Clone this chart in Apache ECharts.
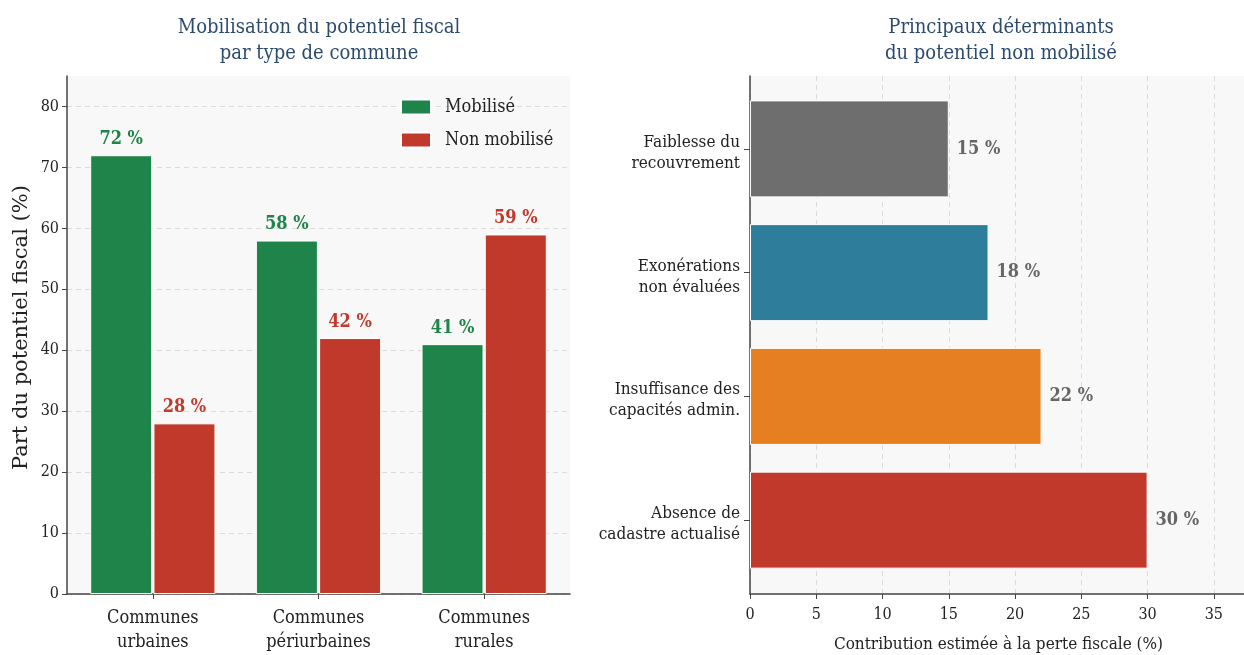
<!DOCTYPE html>
<html>
<head>
<meta charset="utf-8">
<script src="https://cdn.jsdelivr.net/npm/echarts@6/dist/echarts.min.js"></script>
<style>
  html, body { margin: 0; padding: 0; background: #ffffff; }
  #chart { width: 1244px; height: 655px; }
</style>
</head>
<body>
<div id="chart"></div>
<script>
// Left panel: share of fiscal potential by commune type
const communeTypes = ['Communes\nurbaines', 'Communes\npériurbaines', 'Communes\nrurales'];
const mobilise = [72, 58, 41];
const nonMobilise = [28, 42, 59];
const leftTicks = [0, 10, 20, 30, 40, 50, 60, 70, 80];

// Right panel: main drivers of the unmobilised potential
const determinants = ['Faiblesse du\nrecouvrement', 'Exonérations\nnon évaluées', 'Insuffisance des\ncapacités admin.', 'Absence de\ncadastre actualisé'];
const contributions = [15, 18, 22, 30];
const determinantColors = ['#6e6e6e', '#2e7d9a', '#e67e22', '#c0392b'];
const rightTicks = [0, 5, 10, 15, 20, 25, 30, 35];

const GREEN = '#1e8449';
const RED = '#c0392b';
const SERIF_C = '"DejaVu Serif Condensed", "DejaVu Serif", serif';
const SERIF = '"DejaVu Serif", serif';
const AXIS_COLOR = '#444';
const TEXT = '#222';
const GRID_DASH = { color: '#dcdcdc', type: [5, 4], width: 1 };

const chart = echarts.init(document.getElementById('chart'), null, { renderer: 'canvas' });

const valueLabel = (color) => ({
  show: true, formatter: p => p.value + ' %',
  fontFamily: SERIF_C, fontSize: 18, fontWeight: 'bold', color: color
});

chart.setOption({
  backgroundColor: '#ffffff',
  animation: false,
  title: [
    {
      text: 'Mobilisation du potentiel fiscal\npar type de commune',
      left: 314, top: 10, textAlign: 'center',
      textStyle: { fontFamily: SERIF_C, fontSize: 20, fontWeight: 'normal', color: '#2c4a6e', lineHeight: 26 }
    },
    {
      text: 'Principaux déterminants\ndu potentiel non mobilisé',
      left: 996, top: 10, textAlign: 'center',
      textStyle: { fontFamily: SERIF_C, fontSize: 20, fontWeight: 'normal', color: '#2c4a6e', lineHeight: 26 }
    }
  ],
  legend: {
    orient: 'vertical',
    left: 400, top: 98, padding: 0,
    icon: 'rect',
    itemWidth: 30, itemHeight: 15, itemGap: 15,
    textStyle: { fontFamily: SERIF_C, fontSize: 18, color: TEXT, padding: [0, 0, 0, 9] },
    data: ['Mobilisé', 'Non mobilisé']
  },
  grid: [
    // 0: left frame (value axis, axis lines, background)
    { left: 67, width: 503, top: 76, bottom: 61, show: true, backgroundColor: '#f8f8f8', borderWidth: 0, outerBoundsMode: 'none' },
    // 1: left bars
    { left: 70, width: 497, top: 76, bottom: 61, outerBoundsMode: 'none' },
    // 2: right frame (value axis + axis line)
    { left: 750, width: 497, top: 76, bottom: 61, show: true, backgroundColor: '#f8f8f8', borderWidth: 0, outerBoundsMode: 'none' },
    // 3: right bars
    { left: 750, width: 497, top: 87, height: 495, outerBoundsMode: 'none' },
    // 4: right category labels (set slightly lower, like two-line tick labels)
    { left: 750, width: 497, top: 91, height: 495, outerBoundsMode: 'none' }
  ],
  xAxis: [
    {
      gridIndex: 0, type: 'value', min: 0, max: 1,
      axisLine: { show: true, lineStyle: { color: AXIS_COLOR, width: 1.5 } },
      axisTick: { show: false }, axisLabel: { show: false }, splitLine: { show: false }
    },
    {
      gridIndex: 1, type: 'category', data: communeTypes,
      axisLine: { show: false },
      axisTick: { show: true, alignWithLabel: true, length: 5, lineStyle: { color: AXIS_COLOR } },
      axisLabel: { fontFamily: SERIF_C, fontSize: 18, color: TEXT, lineHeight: 24, margin: 12 }
    },
    {
      gridIndex: 2, type: 'value', min: 0, max: 37.5, interval: 5,
      name: 'Contribution estimée à la perte fiscale (%)',
      nameLocation: 'middle', nameGap: 42,
      nameTextStyle: { fontFamily: SERIF_C, fontSize: 17, color: TEXT },
      axisLine: { show: true, lineStyle: { color: AXIS_COLOR, width: 1.5 } },
      axisTick: { show: true, length: 5, customValues: rightTicks, lineStyle: { color: AXIS_COLOR } },
      axisLabel: {
        fontFamily: SERIF_C, fontSize: 16, color: TEXT, margin: 13,
        formatter: v => (rightTicks.indexOf(v) >= 0 ? String(v) : '')
      },
      splitLine: { show: true, lineStyle: GRID_DASH }
    },
    {
      gridIndex: 3, type: 'value', min: 0, max: 37.5, show: false
    },
    {
      gridIndex: 4, type: 'value', min: 0, max: 37.5, show: false
    }
  ],
  yAxis: [
    {
      gridIndex: 0, type: 'value', min: 0, max: 85, interval: 10,
      name: 'Part du potentiel fiscal (%)',
      nameLocation: 'middle', nameRotate: 90, nameGap: 35,
      nameTextStyle: { fontFamily: SERIF, fontSize: 21, color: TEXT, padding: [0, 0, 0, 15] },
      axisLine: { show: true, lineStyle: { color: AXIS_COLOR, width: 1.5 } },
      axisTick: { show: true, length: 5, customValues: leftTicks, lineStyle: { color: AXIS_COLOR } },
      axisLabel: {
        fontFamily: SERIF_C, fontSize: 16, color: TEXT, margin: 8,
        formatter: v => (leftTicks.indexOf(v) >= 0 ? String(v) : '')
      },
      splitLine: { show: true, lineStyle: GRID_DASH }
    },
    {
      gridIndex: 1, type: 'value', min: 0, max: 85, show: false
    },
    {
      gridIndex: 2, type: 'value', min: 0, max: 1,
      axisLine: { show: true, lineStyle: { color: AXIS_COLOR, width: 1.5 } },
      axisTick: { show: false }, axisLabel: { show: false }, splitLine: { show: false }
    },
    {
      gridIndex: 3, type: 'category', data: determinants, inverse: true,
      axisLine: { show: false },
      axisTick: { show: true, alignWithLabel: true, length: 6, lineStyle: { color: AXIS_COLOR } },
      axisLabel: { show: false }
    },
    {
      gridIndex: 4, type: 'category', data: determinants, inverse: true,
      axisLine: { show: false }, axisTick: { show: false },
      axisLabel: {
        fontFamily: SERIF_C, fontSize: 17, color: TEXT, lineHeight: 21, margin: 10, align: 'right'
      }
    }
  ],
  series: [
    {
      name: 'Mobilisé', type: 'bar', xAxisIndex: 1, yAxisIndex: 1,
      data: mobilise, barWidth: 62, barGap: '2%',
      itemStyle: { color: GREEN, borderColor: '#ffffff', borderWidth: 1 },
      label: Object.assign(valueLabel(GREEN), { position: 'top', distance: 7 })
    },
    {
      name: 'Non mobilisé', type: 'bar', xAxisIndex: 1, yAxisIndex: 1,
      data: nonMobilise, barWidth: 62, barGap: '2%',
      itemStyle: { color: RED, borderColor: '#ffffff', borderWidth: 1 },
      label: Object.assign(valueLabel(RED), { position: 'top', distance: 7 })
    },
    {
      name: 'Contribution', type: 'bar', xAxisIndex: 3, yAxisIndex: 3,
      data: contributions, barWidth: 97,
      itemStyle: {
        color: p => determinantColors[p.dataIndex],
        borderColor: '#ffffff', borderWidth: 1
      },
      label: Object.assign(valueLabel('#666666'), { position: 'right', distance: 8 })
    }
  ]
});
</script>
</body>
</html>
